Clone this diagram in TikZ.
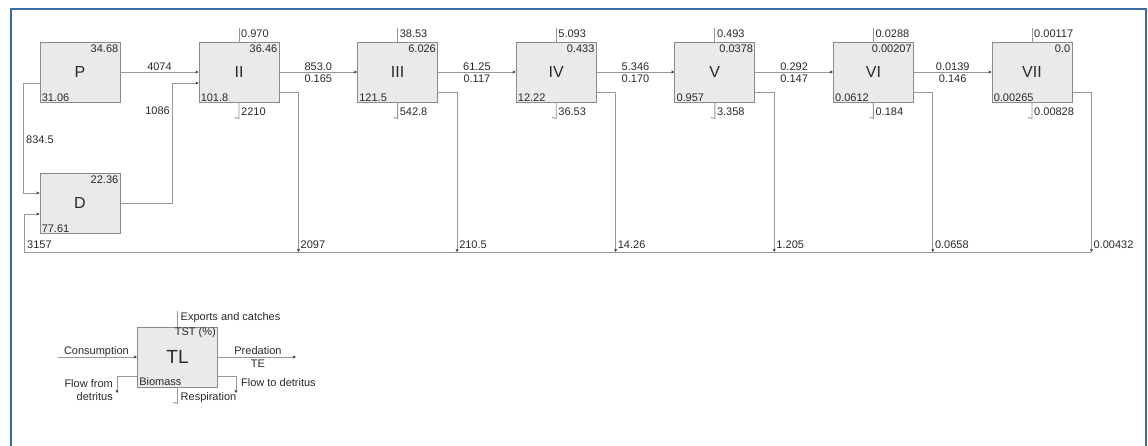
\documentclass[tikz,border=0pt]{standalone}
\usepackage{fontspec}
\setmainfont{Liberation Sans}
\usetikzlibrary{calc,arrows.meta}
\definecolor{boxfill}{HTML}{EAEAEA}
\definecolor{boxline}{HTML}{8A8A8A}
\definecolor{flowline}{HTML}{989898}
\definecolor{txt}{HTML}{2A2A2A}
\definecolor{tipc}{HTML}{333333}
\definecolor{framec}{HTML}{3A6DA3}
\tikzset{
  tlbox/.style={draw=boxline, fill=boxfill, line width=0.9pt, minimum width=80pt, minimum height=60pt, inner sep=0pt, font=\fontsize{16}{19}\selectfont, text=txt},
  flow/.style={draw=flowline, line width=0.9pt, -{Stealth[length=3.2pt,width=3pt,color=tipc]}},
  plain/.style={draw=flowline, line width=0.9pt},
  val/.style={font=\fontsize{11}{13.5}\selectfont, text=txt, inner sep=1pt},
  framestyle/.style={draw=framec, line width=2pt},
}
\newcommand\TLlevel[8]{%
  \node[tlbox] (#1) at (#3,72) {#2};
  \node[val,anchor=east] at ($(#1.north east)+(-1,7)$) {#5};
  \node[val,anchor=west] at ($(#1.south west)+(1,-5)$) {#6};
  \draw[plain] ($(#1.north)+(0,-14)$) -- (#1.north);
  \node[val,anchor=west] at ($(#1.north)+(1,-8)$) {#4};
  \draw[plain] (#1.south) -- ++(0,16) -- ++(-4,-1);
  \node[val,anchor=west] at ($(#1.south)+(1,9)$) {#7};
  \draw[flow] ($(#1.east)+(0,20)$) -- ++(19,0) -- ++(0,160) coordinate (#1det);
  \node[val,anchor=west] at ($(#1det)+(1,-7)$) {#8};
}
\newcommand\TLlink[4]{%
  \draw[flow] (#1.east) -- (#2.west);
  \path (#1.east) -- (#2.west) coordinate[midway] (#1#2m);
  \node[val] at ($(#1#2m)+(0,-5.5)$) {#3};
  \node[val] at ($(#1#2m)+(0,6.5)$) {#4};
}
\begin{document}
\begin{tikzpicture}[x=1pt,y=-1pt]
\useasboundingbox[fill=white] (0,0) rectangle (1148,446);
\draw[framestyle] (11,460) -- (11,9) -- (1146,9) -- (1146,460);

% primary producers and detritus
\node[tlbox] (P) at (80,72) {P};
\node[val,anchor=east] at ($(P.north east)+(-1,7)$) {34.68};
\node[val,anchor=west] at ($(P.south west)+(1,-5)$) {31.06};
\node[tlbox] (D) at (80,203) {D};
\node[val,anchor=east] at ($(D.north east)+(-1,7)$) {22.36};
\node[val,anchor=west] at ($(D.south west)+(1,-5)$) {77.61};

% trophic levels
\TLlevel{II}{II}{239}{0.970}{36.46}{101.8}{2210}{2097}
\TLlevel{III}{III}{397.6}{38.53}{6.026}{121.5}{542.8}{210.5}
\TLlevel{IV}{IV}{556.2}{5.093}{0.433}{12.22}{36.53}{14.26}
\TLlevel{V}{V}{714.8}{0.493}{0.0378}{0.957}{3.358}{1.205}
\TLlevel{VI}{VI}{873.4}{0.0288}{0.00207}{0.0612}{0.184}{0.0658}
\TLlevel{VII}{VII}{1032}{0.00117}{0.0}{0.00265}{0.00828}{0.00432}

\TLlink{II}{III}{853.0}{0.165}
\TLlink{III}{IV}{61.25}{0.117}
\TLlink{IV}{V}{5.346}{0.170}
\TLlink{V}{VI}{0.292}{0.147}
\TLlink{VI}{VII}{0.0139}{0.146}

% P -> II
\draw[flow] (P.east) -- (II.west);
\node[val] at ($($(P.east)!0.5!(II.west)$)+(0,-5)$) {4074};
% D -> II
\draw[flow] (D.east) -| ($(II.west)+(-26,11)$) -- ($(II.west)+(0,11)$);
\node[val,anchor=east] at (171,111) {1086};
% P -> D
\draw[flow] ($(P.west)+(0,11)$) -- ++(-16,0) |- ($(D.west)+(0,-10)$);
\node[val,anchor=west] at (25,140) {834.5};
% detritus return
\coordinate (retL) at (24,252);
\draw[flow] (VIIdet) -- (retL) |- ($(D.west)+(0,11)$);
\node[val,anchor=west] at ($(retL)+(2,-7)$) {3157};

% legend
\node[tlbox, font=\fontsize{19}{22}\selectfont] (TL) at (177.5,357) {TL};
\coordinate (consL) at (58,357);
\coordinate (predR) at (296,357);
\draw[flow] (consL) -- (TL.west);
\node[val,anchor=east] at ($(TL.west)+(-7,-5)$) {Consumption};
\draw[flow] (TL.east) -- (predR);
\node[val] at ($(TL.east)+(40,-6)$) {Predation};
\node[val] at ($(TL.east)+(40,7)$) {TE};
\draw[plain] ($(TL.north)+(0,-16)$) -- (TL.north);
\node[val,anchor=west] at ($(TL.north)+(2,-9)$) {Exports and catches};
\node[val,anchor=east] at ($(TL.north east)+(-1,6)$) {TST (\%)};
\node[val,anchor=west] at ($(TL.south west)+(1,-6)$) {Biomass};
\draw[flow] ($(TL.west)+(0,19)$) -- ++(-20,0) -- ++(0,17);
\node[val,anchor=east,align=right] at (114,390) {Flow from\\detritus};
\draw[plain] (TL.south) -- ++(0,16) -- ++(-4,-1);
\node[val,anchor=west] at ($(TL.south)+(2,10)$) {Respiration};
\draw[flow] ($(TL.east)+(0,19)$) -- ++(18,0) -- ++(0,17);
\node[val,anchor=west] at ($(TL.east)+(22,26)$) {Flow to detritus};
\end{tikzpicture}
\end{document}
